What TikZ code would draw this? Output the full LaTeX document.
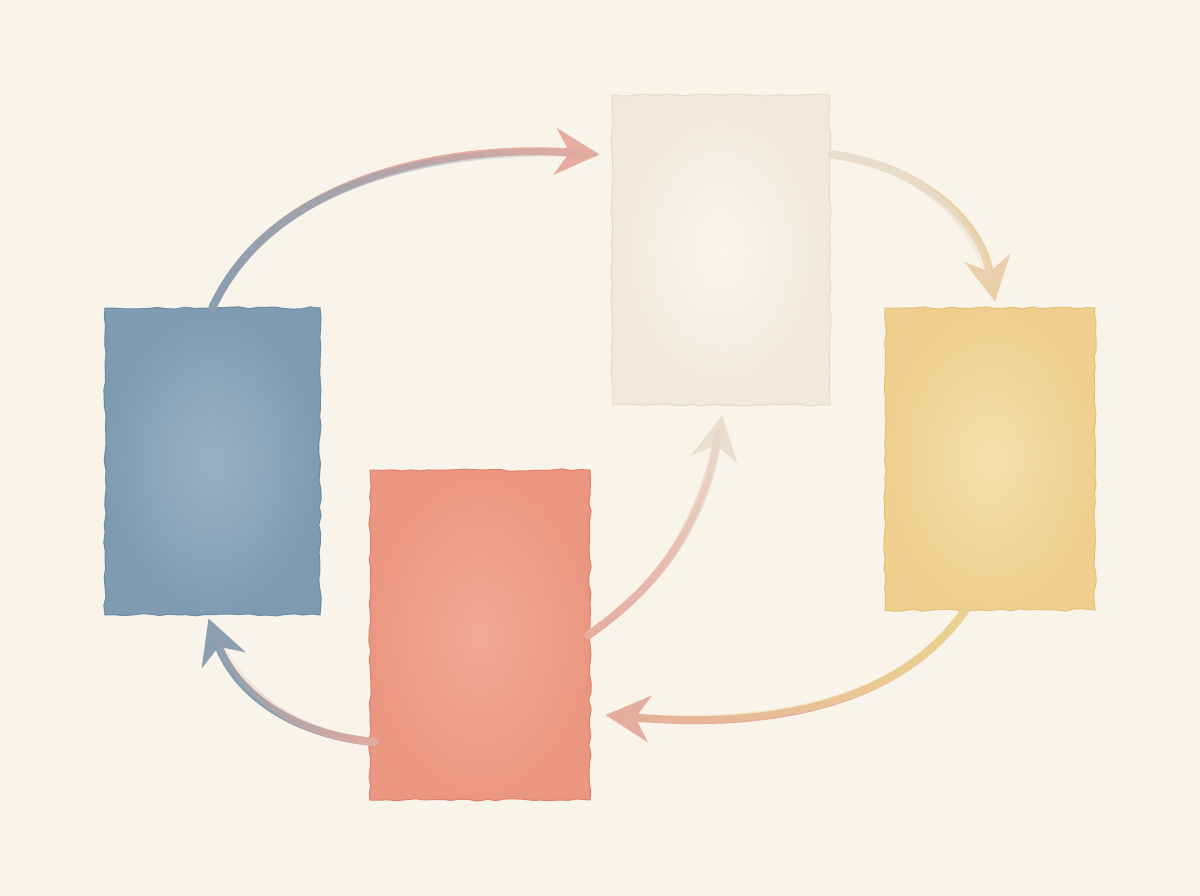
\documentclass[tikz,border=0pt]{standalone}
\usepackage{tikz}
\usetikzlibrary{positioning,arrows.meta,decorations.pathmorphing,fadings}

\definecolor{paper}{HTML}{F8F4EA}
% box washes
\definecolor{blueIn}{HTML}{9AB1C4}
\definecolor{blueOut}{HTML}{7F9BB1}
\definecolor{blueRim}{HTML}{6E8BA4}
\definecolor{redIn}{HTML}{F2AA98}
\definecolor{redOut}{HTML}{EB9680}
\definecolor{redRim}{HTML}{E0806B}
\definecolor{creamIn}{HTML}{F9F6EF}
\definecolor{creamOut}{HTML}{F0E9DC}
\definecolor{creamRim}{HTML}{E5DCCB}
\definecolor{yellowIn}{HTML}{F4DFAC}
\definecolor{yellowOut}{HTML}{EECF8E}
\definecolor{yellowRim}{HTML}{E3C17B}
% arrow inks
\definecolor{inkBlue}{HTML}{8A9FB2}
\definecolor{inkPink}{HTML}{E6AC9F}
\definecolor{inkTan}{HTML}{EACFA8}
\definecolor{inkCream}{HTML}{E8DFD0}
\definecolor{inkYellow}{HTML}{EBD38E}

\tikzset{
  wash/.style={rectangle, inner sep=0pt, line width=1pt,
    decorate, decoration={random steps, segment length=9pt, amplitude=1.2pt}},
  flow/.style={line width=8pt, line cap=round,
    -{Stealth[length=44pt, width=46pt, inset=14pt]}},
  tint/.style={line width=8pt, line cap=round}
}

\begin{document}
\pgfmathsetseed{7}
\begin{tikzpicture}[x=1pt,y=-1pt,node distance=100pt,on grid]
   \fill[paper] (0,0) rectangle (1200,896);
   \useasboundingbox (0,0) rectangle (1200,896);

   \node[wash, minimum width=215pt, minimum height=307pt,
         inner color=blueIn, outer color=blueOut, draw=blueRim] (blue) at (212.5,461.5) {};
   \node[wash, minimum width=220pt, minimum height=330pt,
         inner color=redIn, outer color=redOut, draw=redRim]
         (red) [below right=173.5pt and 267.5pt of blue] {};
   \node[wash, minimum width=218pt, minimum height=310pt,
         inner color=creamIn, outer color=creamOut, draw=creamRim]
         (cream) [above right=211.5pt and 508.5pt of blue] {};
   \node[wash, minimum width=210pt, minimum height=302pt,
         inner color=yellowIn, outer color=yellowOut, draw=yellowRim]
         (yellow) [above right=2.5pt and 777.5pt of blue] {};

   % ends of the connectors
   \coordinate (c-in)  at ([shift={(-12pt,-60pt)}]cream.north west);
   \coordinate (c-out) at ([shift={(2pt,-60pt)}]cream.north east);
   \coordinate (y-in)  at ([shift={(5pt,6pt)}]yellow.north);
   \coordinate (y-out) at ([xshift=-25pt]yellow.south);
   \coordinate (r-in)  at ([shift={(15pt,-80pt)}]red.east);
   \coordinate (r-out) at ([shift={(5pt,-107pt)}]red.west);
   \coordinate (b-in)  at ([shift={(-4pt,-3pt)}]blue.south);
   \coordinate (c-low) at ([shift={(1pt,-10pt)}]cream.south);

   % blue -> cream
   \draw[flow, inkPink] (blue.north) to[out=65, in=176, looseness=0.9] (c-in);
   \draw[tint, inkBlue, path fading=east] (blue.north) to[out=65, in=176, looseness=0.9] (c-in);
   % cream -> yellow
   \draw[flow, inkTan] (c-out) to[out=-8, in=100] (y-in);
   \draw[tint, inkCream, path fading=south] (c-out) to[out=-8, in=100] (y-in);
   % yellow -> red
   \draw[flow, inkPink] (y-out) to[out=235, in=-5, looseness=0.9] (r-in);
   \draw[tint, inkYellow, path fading=west] (y-out) to[out=235, in=-5, looseness=0.9] (r-in);
   % red -> blue
   \draw[flow, inkBlue] (r-out) to[out=175, in=-70] (b-in);
   \draw[tint, inkPink, path fading=west] (r-out) to[out=175, in=-70] (b-in);
   % red -> cream
   \draw[flow, inkCream] ([xshift=-2pt]red.east) to[out=35, in=-100] (c-low);
   \draw[tint, inkPink, path fading=north] ([xshift=-2pt]red.east) to[out=35, in=-100] (c-low);
\end{tikzpicture}
\end{document}
